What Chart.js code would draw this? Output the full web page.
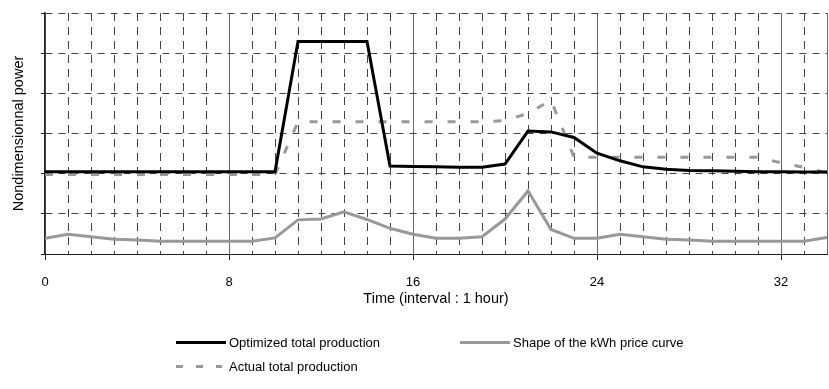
<!DOCTYPE html>
<html>
<head>
<meta charset="utf-8">
<script src="https://cdn.jsdelivr.net/npm/chart.js@4"></script>
<style>
    body { margin: 0; background: #fff; }
    #wrap { position: relative; width: 829px; height: 389px; }
    #chart { position: absolute; left: 0; top: 0; }
    .legend-item { position: absolute; display: flex; align-items: center; font: 13px 'Liberation Sans Narrow', 'Liberation Sans', Arial, sans-serif; color: #000; white-space: nowrap; }
    .swatch { height: 3px; margin-right: 3px; }
</style>
</head>
<body>
<div id="wrap">
    <canvas id="chart" width="829" height="389"></canvas>
    <div id="legend"></div>
</div>
<script>
const hours = [0, 1, 2, 3, 4, 5, 6, 7, 8, 9, 10, 11, 12, 13, 14, 15, 16, 17, 18, 19, 20, 21, 22, 23, 24, 25, 26, 27, 28, 29, 30, 31, 32, 33, 34];

const optimizedProduction = [2.05, 2.05, 2.05, 2.05, 2.05, 2.05, 2.05, 2.05, 2.05, 2.05, 2.05,
    5.29, 5.29, 5.29, 5.29, 2.19, 2.18, 2.17, 2.16, 2.16, 2.24, 3.06, 3.04, 2.9, 2.51, 2.32,
    2.17, 2.11, 2.08, 2.07, 2.06, 2.05, 2.05, 2.04, 2.04];

const actualProduction = [1.98, 1.98, 1.98, 1.98, 1.98, 1.98, 1.98, 1.98, 1.98, 1.98, 1.98,
    3.29, 3.29, 3.29, 3.29, 3.29, 3.29, 3.29, 3.29, 3.29, 3.32, 3.5, 3.83, 2.41, 2.41, 2.41,
    2.41, 2.41, 2.41, 2.41, 2.41, 2.41, 2.27, 2.16, 2.02];

const priceShape = [0.39, 0.49, 0.43, 0.37, 0.35, 0.32, 0.32, 0.32, 0.32, 0.32, 0.4,
    0.85, 0.87, 1.05, 0.86, 0.64, 0.49, 0.39, 0.39, 0.43, 0.87, 1.57, 0.61, 0.39, 0.39, 0.49,
    0.43, 0.37, 0.35, 0.32, 0.32, 0.32, 0.32, 0.32, 0.41];

const labeledHours = [0, 8, 16, 24, 32];

Chart.defaults.font.family = "'Liberation Sans Narrow', 'Liberation Sans', Arial, sans-serif";
Chart.defaults.font.size = 13;
Chart.defaults.color = '#000';

const datasets = [{
    label: 'Optimized total production',
    data: optimizedProduction,
    borderColor: '#000',
    borderWidth: 3,
    pointRadius: 0,
    tension: 0
}, {
    label: 'Shape of the kWh price curve',
    data: priceShape,
    borderColor: '#999',
    borderWidth: 3,
    pointRadius: 0,
    tension: 0
}, {
    label: 'Actual total production',
    data: actualProduction,
    borderColor: '#999',
    borderWidth: 3,
    borderDash: [8, 15],
    pointRadius: 0,
    tension: 0
}];

const ctx = document.getElementById('chart').getContext('2d');
const chart = new Chart(ctx, {
    type: 'line',
    data: { labels: hours, datasets: datasets },
    options: {
        responsive: false,
        animation: false,
        layout: { padding: { left: 0, top: 13, right: 2, bottom: 81 } },
        plugins: { legend: { display: false }, tooltip: { enabled: false } },
        scales: {
            x: {
                type: 'linear',
                min: 0,
                max: 34,
                ticks: {
                    stepSize: 1,
                    autoSkip: false,
                    maxRotation: 0,
                    padding: 15,
                    callback: v => labeledHours.includes(v) ? String(v) : ''
                },
                grid: {
                    color: '#444',
                    lineWidth: 1,
                    tickLength: 6,
                    tickColor: c => labeledHours.includes(c.tick.value) ? '#222' : 'rgba(0,0,0,0)',
                    tickBorderDash: []
                },
                border: { color: '#222', width: 1, dash: [8, 6] },
                title: { display: true, text: 'Time (interval : 1 hour)', font: { size: 14.5 }, padding: { top: 2, bottom: 0 } },
                afterFit: s => { s.height = 54; s.paddingLeft = 0; s.paddingRight = 0; }
            },
            xMajor: {
                type: 'linear',
                position: 'bottom',
                min: 0,
                max: 34,
                ticks: { display: false, stepSize: 8 },
                grid: { color: '#666', lineWidth: 1, drawTicks: false },
                border: { display: false },
                afterFit: s => { s.height = 0; s.paddingLeft = 0; s.paddingRight = 0; }
            },
            y: {
                min: 0,
                max: 6,
                ticks: { display: false, stepSize: 1 },
                grid: { color: '#444', lineWidth: 1, tickLength: 4, tickColor: '#222', tickBorderDash: [] },
                border: { color: '#222', width: 1.5, dash: [7, 6] },
                title: { display: true, text: 'Nondimensionnal power', font: { size: 14.5 }, padding: { top: 10, bottom: 0 } },
                afterFit: s => { s.width = 45; }
            }
        }
    }
});

// legend drawn as html below the plot, two columns like the original
const legendPos = [
    { left: 176, top: 335, width: 50 },
    { left: 460, top: 335, width: 50 },
    { left: 176, top: 359, width: 46 }
];
const legend = document.getElementById('legend');
chart.data.datasets.forEach((ds, i) => {
    const item = document.createElement('div');
    item.className = 'legend-item';
    item.style.left = legendPos[i].left + 'px';
    item.style.top = legendPos[i].top + 'px';
    const sw = document.createElement('span');
    sw.className = 'swatch';
    sw.style.width = legendPos[i].width + 'px';
    if (ds.borderDash) {
        sw.style.background = `repeating-linear-gradient(90deg, ${ds.borderColor} 0 7px, transparent 7px 20px)`;
        sw.style.marginRight = '7px';
    } else {
        sw.style.background = ds.borderColor;
    }
    item.appendChild(sw);
    const txt = document.createElement('span');
    txt.textContent = ds.label;
    item.appendChild(txt);
    legend.appendChild(item);
});
</script>
</body>
</html>
